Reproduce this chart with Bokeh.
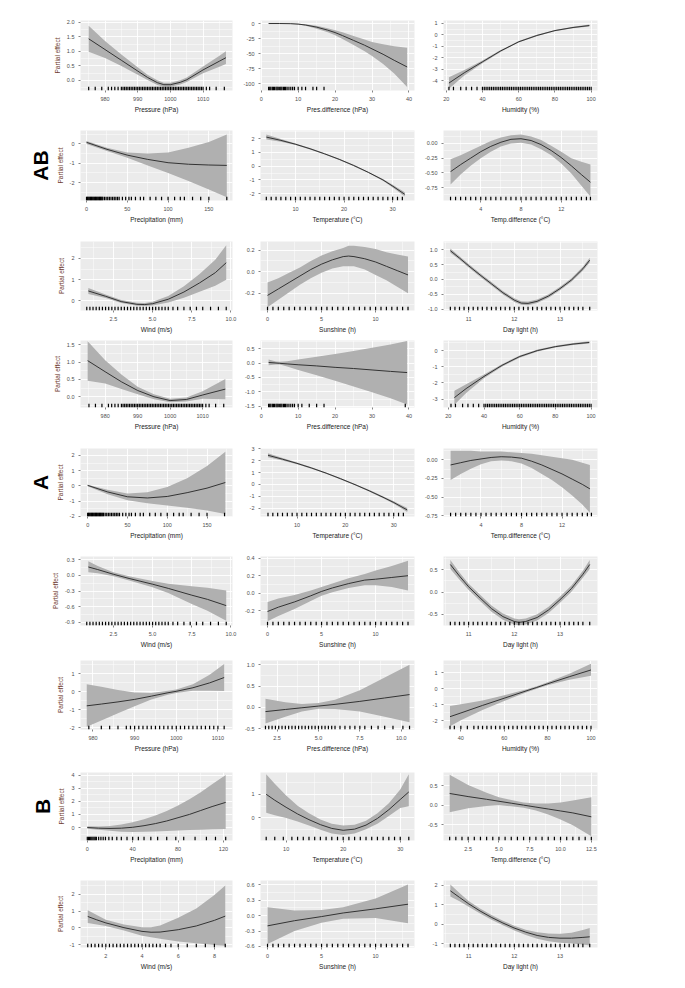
from bokeh.plotting import figure
from bokeh.layouts import column, row
from bokeh.models import Range1d, FixedTicker, PrintfTickFormatter, Title
from bokeh.embed import file_html
from bokeh.resources import INLINE

FONT = "Liberation Sans"

# ---------------- group AB ----------------
AB_PRES_X = [975, 980, 985, 990, 993, 996, 998, 1000, 1003, 1005, 1010, 1015, 1017]
AB_PRES_FIT = [1.43, 1.06, 0.69, 0.32, 0.10, -0.08, -0.15, -0.15, -0.07, 0.02, 0.36, 0.66, 0.78]
AB_PRES_LO = [0.98, 0.77, 0.49, 0.19, 0.01, -0.16, -0.22, -0.22, -0.14, -0.06, 0.24, 0.47, 0.56]
AB_PRES_HI = [1.88, 1.35, 0.89, 0.45, 0.19, 0.00, -0.08, -0.08, 0.00, 0.10, 0.48, 0.85, 1.00]

AB_PD_X = [2, 5, 8, 10, 12, 15, 18, 20, 22, 25, 28, 30, 33, 36, 39.5]
AB_PD_FIT = [0, 0, -0.3, -1, -2.5, -6, -11, -15, -20, -28, -36, -42, -51, -61, -72]
AB_PD_LO = [-0.3, -0.3, -0.8, -1.8, -3.8, -8.5, -14.5, -19.5, -25.5, -35.5, -46, -54, -67, -83, -105]
AB_PD_HI = [0.3, 0.3, 0.2, -0.3, -1.3, -3.7, -7.8, -11, -14.5, -20.5, -26.5, -30.5, -34.5, -37.5, -40]

AB_HUM_X = [21.5, 30, 40, 50, 60, 70, 80, 90, 99]
AB_HUM_FIT = [-4.2, -3.3, -2.35, -1.4, -0.6, -0.05, 0.38, 0.65, 0.82]
AB_HUM_LO = [-4.7, -3.55, -2.47, -1.48, -0.66, -0.11, 0.33, 0.59, 0.74]
AB_HUM_HI = [-3.7, -3.05, -2.23, -1.32, -0.54, 0.01, 0.43, 0.71, 0.90]

AB_PREC_X = [0, 25, 50, 75, 100, 125, 150, 172]
AB_PREC_FIT = [0.08, -0.28, -0.58, -0.80, -0.97, -1.05, -1.09, -1.11]
AB_PREC_LO = [0.0, -0.37, -0.72, -1.12, -1.50, -1.92, -2.35, -2.75]
AB_PREC_HI = [0.15, -0.20, -0.45, -0.50, -0.45, -0.20, 0.10, 0.48]

AB_TEMP_X = [4, 7, 10, 13, 16, 19, 22, 25, 28, 30, 32.5]
AB_TEMP_FIT = [2.12, 1.88, 1.60, 1.27, 0.90, 0.50, 0.05, -0.45, -1.00, -1.45, -2.05]
AB_TEMP_LO = [1.94, 1.78, 1.54, 1.22, 0.85, 0.45, 0.00, -0.50, -1.07, -1.55, -2.20]
AB_TEMP_HI = [2.30, 1.98, 1.66, 1.32, 0.95, 0.55, 0.10, -0.40, -0.93, -1.35, -1.90]

AB_TD_X = [1, 2, 3, 4, 5, 6, 7, 8, 9, 10, 11, 12, 13, 14, 14.9]
AB_TD_FIT = [-0.48, -0.36, -0.25, -0.14, -0.05, 0.02, 0.07, 0.08, 0.05, -0.02, -0.12, -0.24, -0.38, -0.53, -0.66]
AB_TD_LO = [-0.70, -0.53, -0.38, -0.25, -0.14, -0.05, 0.00, 0.01, -0.02, -0.10, -0.20, -0.34, -0.51, -0.72, -0.90]
AB_TD_HI = [-0.27, -0.20, -0.12, -0.04, 0.04, 0.10, 0.14, 0.15, 0.12, 0.06, -0.04, -0.14, -0.25, -0.31, -0.36]

AB_WIND_X = [0.9, 2, 3, 4, 4.5, 5, 6, 7, 8, 9, 9.7]
AB_WIND_FIT = [0.47, 0.22, -0.03, -0.16, -0.17, -0.13, 0.08, 0.42, 0.85, 1.33, 1.80]
AB_WIND_LO = [0.33, 0.14, -0.10, -0.23, -0.24, -0.22, -0.07, 0.15, 0.43, 0.72, 1.00]
AB_WIND_HI = [0.61, 0.30, 0.04, -0.09, -0.10, -0.04, 0.23, 0.69, 1.27, 1.94, 2.62]

AB_SUN_X = [0, 1, 2, 3, 4, 5, 6, 7, 7.5, 8, 9, 10, 11, 12, 13]
AB_SUN_FIT = [-0.22, -0.16, -0.10, -0.04, 0.02, 0.07, 0.11, 0.14, 0.145, 0.14, 0.12, 0.09, 0.05, 0.01, -0.03]
AB_SUN_LO = [-0.33, -0.26, -0.19, -0.12, -0.06, -0.01, 0.03, 0.05, 0.05, 0.05, 0.02, -0.03, -0.08, -0.14, -0.20]
AB_SUN_HI = [-0.10, -0.06, -0.01, 0.04, 0.10, 0.15, 0.19, 0.22, 0.24, 0.24, 0.23, 0.21, 0.18, 0.16, 0.14]

AB_DL_X = [10.6, 10.8, 11, 11.25, 11.5, 11.75, 12, 12.15, 12.3, 12.5, 12.75, 13, 13.25, 13.5, 13.65]
AB_DL_FIT = [0.97, 0.72, 0.46, 0.15, -0.15, -0.45, -0.70, -0.80, -0.81, -0.74, -0.56, -0.31, -0.02, 0.36, 0.65]
AB_DL_LO = [0.90, 0.66, 0.40, 0.09, -0.21, -0.51, -0.76, -0.86, -0.87, -0.80, -0.62, -0.37, -0.08, 0.29, 0.57]
AB_DL_HI = [1.04, 0.78, 0.52, 0.21, -0.09, -0.39, -0.64, -0.74, -0.75, -0.68, -0.50, -0.25, 0.04, 0.43, 0.73]

# ---------------- group A ----------------
A_PRES_X = [974.6, 980, 985, 990, 995, 1000, 1005, 1010, 1017]
A_PRES_FIT = [1.04, 0.72, 0.43, 0.18, 0.00, -0.11, -0.08, 0.05, 0.22]
A_PRES_LO = [0.46, 0.38, 0.22, 0.07, -0.07, -0.16, -0.14, -0.06, -0.07]
A_PRES_HI = [1.60, 1.05, 0.64, 0.29, 0.07, -0.06, -0.02, 0.16, 0.51]

A_PD_X = [2, 4, 5, 7, 10, 15, 20, 25, 30, 35, 39.5]
A_PD_FIT = [0.02, 0.0, -0.01, -0.03, -0.06, -0.10, -0.15, -0.19, -0.24, -0.29, -0.33]
A_PD_LO = [-0.08, -0.05, -0.05, -0.12, -0.24, -0.42, -0.61, -0.81, -1.01, -1.22, -1.44]
A_PD_HI = [0.12, 0.05, 0.04, 0.06, 0.12, 0.22, 0.31, 0.42, 0.53, 0.64, 0.76]

A_HUM_X = [23.4, 30, 40, 50, 60, 70, 80, 90, 99]
A_HUM_FIT = [-2.91, -2.35, -1.60, -0.92, -0.37, 0.00, 0.24, 0.40, 0.50]
A_HUM_LO = [-3.35, -2.62, -1.72, -1.00, -0.44, -0.06, 0.18, 0.34, 0.43]
A_HUM_HI = [-2.48, -2.08, -1.48, -0.84, -0.30, 0.06, 0.30, 0.46, 0.57]

A_PREC_X = [0, 25, 50, 75, 100, 125, 150, 173]
A_PREC_FIT = [0.03, -0.40, -0.72, -0.80, -0.70, -0.45, -0.15, 0.22]
A_PREC_LO = [-0.02, -0.55, -0.95, -1.15, -1.30, -1.45, -1.62, -1.85]
A_PREC_HI = [0.08, -0.25, -0.50, -0.42, -0.08, 0.50, 1.30, 2.25]

A_TEMP_X = [4, 7, 10, 13, 16, 19, 22, 25, 28, 30, 32.8]
A_TEMP_FIT = [2.45, 2.12, 1.77, 1.38, 0.95, 0.48, -0.02, -0.55, -1.12, -1.52, -2.15]
A_TEMP_LO = [2.28, 2.02, 1.70, 1.32, 0.89, 0.42, -0.08, -0.62, -1.20, -1.62, -2.32]
A_TEMP_HI = [2.62, 2.22, 1.84, 1.44, 1.01, 0.54, 0.04, -0.48, -1.04, -1.42, -1.98]

A_TD_X = [1, 2, 3, 4, 5, 6, 7, 8, 9, 10, 11, 12, 13, 14, 14.75]
A_TD_FIT = [-0.07, -0.04, -0.01, 0.01, 0.03, 0.04, 0.035, 0.02, -0.02, -0.07, -0.13, -0.19, -0.26, -0.33, -0.39]
A_TD_LO = [-0.27, -0.19, -0.12, -0.06, -0.02, -0.01, -0.02, -0.05, -0.11, -0.19, -0.27, -0.37, -0.48, -0.60, -0.71]
A_TD_HI = [0.12, 0.12, 0.12, 0.11, 0.11, 0.11, 0.10, 0.09, 0.08, 0.06, 0.04, 0.02, 0.00, -0.04, -0.07]

A_WIND_X = [0.9, 1.5, 2.5, 3.5, 5, 6, 7.5, 8.5, 9.7]
A_WIND_FIT = [0.16, 0.11, 0.02, -0.06, -0.17, -0.25, -0.38, -0.46, -0.58]
A_WIND_LO = [0.06, 0.04, -0.02, -0.10, -0.23, -0.34, -0.55, -0.68, -0.87]
A_WIND_HI = [0.27, 0.18, 0.06, -0.02, -0.11, -0.16, -0.21, -0.24, -0.29]

A_SUN_X = [0, 1, 2.5, 4, 5, 6, 7.5, 9, 10, 11.5, 13]
A_SUN_FIT = [-0.21, -0.16, -0.10, -0.03, 0.02, 0.06, 0.11, 0.15, 0.16, 0.18, 0.20]
A_SUN_LO = [-0.32, -0.26, -0.18, -0.09, -0.03, 0.01, 0.06, 0.09, 0.09, 0.07, 0.03]
A_SUN_HI = [-0.10, -0.06, -0.02, 0.03, 0.07, 0.11, 0.17, 0.22, 0.26, 0.31, 0.37]

A_DL_X = [10.6, 10.8, 11, 11.25, 11.5, 11.75, 12, 12.1, 12.25, 12.5, 12.75, 13, 13.25, 13.5, 13.65]
A_DL_FIT = [0.62, 0.36, 0.12, -0.13, -0.37, -0.55, -0.66, -0.68, -0.66, -0.57, -0.40, -0.17, 0.08, 0.40, 0.62]
A_DL_LO = [0.52, 0.28, 0.05, -0.20, -0.44, -0.62, -0.73, -0.75, -0.73, -0.64, -0.47, -0.24, 0.01, 0.32, 0.52]
A_DL_HI = [0.72, 0.44, 0.19, -0.06, -0.30, -0.48, -0.59, -0.61, -0.59, -0.50, -0.33, -0.10, 0.15, 0.48, 0.72]

# ---------------- group B ----------------
B_PRES_X = [978.5, 982, 986, 990, 994, 998, 1000, 1004, 1008, 1011.5]
B_PRES_FIT = [-0.78, -0.68, -0.56, -0.42, -0.24, -0.05, 0.03, 0.23, 0.50, 0.80]
B_PRES_LO = [-1.95, -1.60, -1.20, -0.80, -0.42, -0.16, -0.06, 0.06, 0.06, 0.05]
B_PRES_HI = [0.42, 0.28, 0.10, -0.04, -0.06, 0.06, 0.13, 0.42, 0.95, 1.55]

B_PD_X = [1.8, 3, 4, 5, 6, 7.5, 9, 10.5]
B_PD_FIT = [-0.10, -0.05, -0.01, 0.03, 0.07, 0.14, 0.22, 0.30]
B_PD_LO = [-0.38, -0.22, -0.10, -0.03, -0.04, -0.10, -0.22, -0.35]
B_PD_HI = [0.20, 0.12, 0.08, 0.10, 0.18, 0.40, 0.70, 1.00]

B_HUM_X = [35, 40, 50, 60, 70, 75, 80, 90, 100]
B_HUM_FIT = [-1.75, -1.52, -1.05, -0.60, -0.15, 0.07, 0.30, 0.74, 1.16]
B_HUM_LO = [-2.35, -1.98, -1.33, -0.78, -0.25, -0.01, 0.20, 0.55, 0.80]
B_HUM_HI = [-1.08, -0.98, -0.74, -0.42, -0.05, 0.15, 0.40, 0.93, 1.55]

B_PREC_X = [0, 10, 20, 30, 40, 50, 60, 70, 80, 90, 100, 110, 122]
B_PREC_FIT = [0.0, -0.05, -0.07, -0.05, 0.02, 0.14, 0.30, 0.50, 0.75, 1.00, 1.30, 1.60, 1.92]
B_PREC_LO = [-0.10, -0.17, -0.25, -0.32, -0.35, -0.33, -0.30, -0.26, -0.22, -0.19, -0.16, -0.14, -0.12]
B_PREC_HI = [0.10, 0.08, 0.12, 0.23, 0.40, 0.63, 0.92, 1.26, 1.68, 2.15, 2.70, 3.30, 4.00]

B_TEMP_X = [6.5, 8, 10, 12, 14, 16, 18, 20, 22, 24, 26, 28, 30, 31.5]
B_TEMP_FIT = [1.00, 0.75, 0.45, 0.17, -0.07, -0.28, -0.44, -0.52, -0.47, -0.30, -0.02, 0.35, 0.78, 1.10]
B_TEMP_LO = [0.22, 0.12, 0.00, -0.15, -0.32, -0.50, -0.65, -0.72, -0.65, -0.48, -0.24, 0.08, 0.42, 0.50]
B_TEMP_HI = [1.85, 1.45, 0.95, 0.52, 0.20, -0.06, -0.24, -0.32, -0.29, -0.12, 0.20, 0.62, 1.20, 1.85]

B_TD_X = [1, 2.5, 4, 5, 6, 7, 8, 9, 10, 11, 12.5]
B_TD_FIT = [0.30, 0.22, 0.15, 0.10, 0.05, 0.00, -0.05, -0.10, -0.15, -0.20, -0.30]
B_TD_LO = [-0.18, -0.08, -0.02, 0.00, -0.03, -0.07, -0.14, -0.24, -0.37, -0.52, -0.80]
B_TD_HI = [0.78, 0.52, 0.32, 0.20, 0.13, 0.07, 0.04, 0.04, 0.07, 0.12, 0.20]

B_WIND_X = [1, 1.5, 2, 3, 4, 4.5, 5, 6, 7, 8, 8.6]
B_WIND_FIT = [0.68, 0.48, 0.30, 0.02, -0.20, -0.25, -0.24, -0.10, 0.12, 0.45, 0.70]
B_WIND_LO = [0.30, 0.20, 0.12, -0.15, -0.45, -0.55, -0.64, -0.80, -0.90, -1.00, -1.05]
B_WIND_HI = [1.05, 0.76, 0.48, 0.20, 0.05, 0.05, 0.15, 0.60, 1.15, 1.95, 2.50]

B_SUN_X = [0, 2.5, 5, 7, 10, 13]
B_SUN_FIT = [-0.20, -0.10, -0.02, 0.05, 0.13, 0.22]
B_SUN_LO = [-0.55, -0.30, -0.14, -0.06, -0.05, -0.15]
B_SUN_HI = [0.16, 0.10, 0.11, 0.16, 0.33, 0.60]

B_DL_X = [10.6, 10.8, 11, 11.25, 11.5, 11.75, 12, 12.25, 12.5, 12.75, 13, 13.25, 13.5, 13.65]
B_DL_FIT = [1.72, 1.38, 1.05, 0.68, 0.35, 0.06, -0.20, -0.41, -0.58, -0.68, -0.72, -0.72, -0.68, -0.65]
B_DL_LO = [1.42, 1.18, 0.90, 0.55, 0.23, -0.06, -0.32, -0.55, -0.75, -0.88, -0.95, -1.00, -1.05, -1.10]
B_DL_HI = [2.05, 1.60, 1.20, 0.81, 0.47, 0.18, -0.08, -0.28, -0.42, -0.48, -0.49, -0.44, -0.30, -0.20]

# ---------------- rug (observed values) ----------------
RUG_PRES = [975, 977, 979, 981, 982, 983, 984, 985, 985.5, 986, 986.5, 987, 987.5, 988, 988.5, 989, 989.5, 990,
            990.5, 991, 991.5, 992, 992.5, 993, 993.5, 994, 994.5, 995, 995.5, 996, 996.5, 997, 997.5, 998, 998.5,
            999, 999.5, 1000, 1000.5, 1001, 1001.5, 1002, 1002.5, 1003, 1003.5, 1004, 1004.5, 1005, 1005.5, 1006,
            1006.5, 1007, 1007.5, 1008, 1008.5, 1009, 1009.5, 1010, 1011, 1012, 1014, 1016.5]
RUG_PRES_B = [979, 982, 984, 986, 988, 989, 990, 991, 992, 993, 994, 995, 996, 997, 998, 999, 1000, 1001, 1002,
              1003, 1004, 1005, 1006, 1007, 1008, 1009, 1010, 1011.5]
RUG_PD = [2, 2.3, 2.6, 3, 3.3, 3.6, 4, 4.3, 4.6, 5, 5.3, 5.6, 6, 6.3, 6.6, 7, 7.5, 8, 8.5, 9, 10, 11, 12, 14, 15, 17]
RUG_PD_A = [2, 2.3, 2.6, 3, 3.3, 3.6, 4, 4.3, 4.6, 5, 5.3, 5.6, 6, 6.3, 6.6, 7, 7.5, 8, 8.5, 9, 10, 11, 13, 15, 17, 39]
RUG_PD_B = [1.8, 2.0, 2.2, 2.4, 2.6, 2.8, 3.0, 3.2, 3.4, 3.6, 3.8, 4.0, 4.2, 4.4, 4.6, 4.8, 5.0, 5.2, 5.4, 5.6,
            5.8, 6.0, 6.3, 6.6, 6.9, 7.2, 7.5, 7.8, 8.2, 8.6, 9.0, 9.5, 10.1, 10.5]
RUG_HUM = [21.5, 24, 28, 31, 34, 37, 40, 41, 42, 43, 44, 45, 46, 47, 48, 49, 50, 51, 52, 53, 54, 55, 56, 57, 58,
           59, 60, 61, 62, 63, 64, 65, 66, 67, 68, 69, 70, 71, 72, 73, 74, 75, 76, 77, 78, 79, 80, 81, 82, 83, 84,
           85, 86, 87, 88, 89, 90, 91, 92, 93, 94, 95, 96, 97, 98, 99, 100]
RUG_HUM_B = [35, 37, 40, 43, 46, 48, 50, 52, 54, 56, 58, 60, 62, 64, 66, 68, 70, 72, 74, 76, 78, 80, 82, 84, 86,
             88, 90, 92, 94, 96, 98, 100]
RUG_PREC = [0, 1, 2, 3, 4, 5, 6, 7, 8, 9, 10, 11, 12, 13, 14, 15, 16, 17, 18, 19, 20, 22, 24, 26, 28, 30, 32, 34,
            36, 38, 40, 44, 48, 52, 55, 60, 66, 70, 78, 85, 92, 100, 108, 115, 120, 130, 140, 150, 172]
RUG_PREC_B = [0, 1, 2, 3, 4, 5, 6, 7, 8, 10, 12, 14, 16, 19, 22, 26, 30, 35, 40, 45, 50, 56, 62, 70, 78, 85, 95,
              105, 113, 122]
RUG_TEMP = [4, 5, 6, 7, 8, 9, 10, 11, 12, 13, 14, 15, 16, 17, 18, 19, 20, 21, 22, 23, 24, 25, 26, 27, 28, 29,
            30, 31, 32]
RUG_TEMP_B = [6.5, 8, 9.5, 11, 12, 13, 14, 15, 16, 17, 18, 19, 20, 21, 22, 23, 24, 25, 26, 27, 28, 29, 30, 31.5]
RUG_TD = [1, 1.5, 2, 2.5, 3, 3.5, 4, 4.5, 5, 5.5, 6, 6.5, 7, 7.5, 8, 8.5, 9, 9.5, 10, 10.5, 11, 11.5, 12, 12.5,
          13, 13.5, 14, 14.5, 14.9]
RUG_TD_B = [1, 1.5, 2, 2.5, 3, 3.5, 4, 4.5, 5, 5.5, 6, 6.5, 7, 7.5, 8, 8.5, 9, 9.5, 10, 10.5, 11, 11.5, 12, 12.5]
RUG_WIND = [0.8, 1.0, 1.2, 1.4, 1.6, 1.8, 2.0, 2.2, 2.4, 2.6, 2.8, 3.0, 3.2, 3.4, 3.6, 3.8, 4.0, 4.2, 4.4, 4.6,
            4.8, 5.0, 5.2, 5.4, 5.6, 5.8, 6.0, 6.3, 6.6, 7.0, 7.4, 7.8, 8.2, 8.7, 9.2, 9.7]
RUG_WIND_B = [1.0, 1.2, 1.4, 1.6, 1.8, 2.0, 2.2, 2.4, 2.6, 2.8, 3.0, 3.2, 3.4, 3.6, 3.8, 4.0, 4.2, 4.4, 4.6, 4.8,
              5.0, 5.3, 5.6, 6.0, 6.5, 7.0, 7.5, 8.0, 8.6]
RUG_SUN = [0, 0.5, 1, 1.5, 2, 2.5, 3, 3.5, 4, 4.5, 5, 5.5, 6, 6.5, 7, 7.5, 8, 8.5, 9, 9.5, 10, 10.5, 11, 11.5,
           12, 12.5, 13]
RUG_DL = [10.6, 10.7, 10.8, 10.9, 11.0, 11.1, 11.2, 11.3, 11.4, 11.5, 11.6, 11.7, 11.8, 11.9, 12.0, 12.1, 12.2,
          12.3, 12.4, 12.5, 12.6, 12.7, 12.8, 12.9, 13.0, 13.1, 13.2, 13.3, 13.4, 13.5, 13.65]

# ---------------- axis titles / ticks ----------------
XL_PRES = "Pressure (hPa)"
XL_PD = "Pres.difference (hPa)"
XL_HUM = "Humidity (%)"
XL_PREC = "Precipitation (mm)"
XL_TEMP = "Temperature (\u00b0C)"
XL_TD = "Temp.difference (\u00b0C)"
XL_WIND = "Wind (m/s)"
XL_SUN = "Sunshine (h)"
XL_DL = "Day light (h)"
Y_LABEL = "Partial effect"

# (x, fit, lo, hi, rug, xlim, ylim, xticks, xfmt, yticks, yfmt, xlabel)
PANELS = [
    [(AB_PRES_X, AB_PRES_FIT, AB_PRES_LO, AB_PRES_HI, RUG_PRES, (972.5, 1019), (-0.35, 2.06), [980, 990, 1000, 1010], "%d", [0, 0.5, 1, 1.5, 2], "%.1f", XL_PRES),
     (AB_PD_X, AB_PD_FIT, AB_PD_LO, AB_PD_HI, RUG_PD, (-0.2, 41.5), (-111, 5), [0, 10, 20, 30, 40], "%d", [-100, -75, -50, -25, 0], "%d", XL_PD),
     (AB_HUM_X, AB_HUM_FIT, AB_HUM_LO, AB_HUM_HI, RUG_HUM, (18.5, 103.5), (-4.85, 1.26), [20, 40, 60, 80, 100], "%d", [-4, -3, -2, -1, 0, 1], "%d", XL_HUM)],
    [(AB_PREC_X, AB_PREC_FIT, AB_PREC_LO, AB_PREC_HI, RUG_PREC, (-7.4, 179), (-2.92, 0.69), [0, 50, 100, 150], "%d", [-2, -1, 0], "%d", XL_PREC),
     (AB_TEMP_X, AB_TEMP_FIT, AB_TEMP_LO, AB_TEMP_HI, RUG_TEMP, (2.8, 34.5), (-2.5, 2.6), [10, 20, 30], "%d", [-2, -1, 0, 1, 2], "%d", XL_TEMP),
     (AB_TD_X, AB_TD_FIT, AB_TD_LO, AB_TD_HI, RUG_TD, (0.3, 15.6), (-0.97, 0.22), [4, 8, 12], "%d", [-0.75, -0.5, -0.25, 0], "%.2f", XL_TD)],
    [(AB_WIND_X, AB_WIND_FIT, AB_WIND_LO, AB_WIND_HI, RUG_WIND, (0.4, 10.1), (-0.45, 2.8), [2.5, 5, 7.5, 10], "%.1f", [0, 1, 2], "%d", XL_WIND),
     (AB_SUN_X, AB_SUN_FIT, AB_SUN_LO, AB_SUN_HI, RUG_SUN, (-0.65, 13.6), (-0.36, 0.28), [0, 5, 10], "%d", [-0.2, 0, 0.2], "%.1f", XL_SUN),
     (AB_DL_X, AB_DL_FIT, AB_DL_LO, AB_DL_HI, RUG_DL, (10.45, 13.82), (-1.05, 1.28), [11, 12, 13], "%d", [-1, -0.5, 0, 0.5, 1], "%.1f", XL_DL)],
    [(A_PRES_X, A_PRES_FIT, A_PRES_LO, A_PRES_HI, RUG_PRES, (972.4, 1019.2), (-0.31, 1.62), [980, 990, 1000, 1010], "%d", [0, 0.5, 1, 1.5], "%.1f", XL_PRES),
     (A_PD_X, A_PD_FIT, A_PD_LO, A_PD_HI, RUG_PD_A, (-0.2, 41.5), (-1.54, 0.78), [0, 10, 20, 30, 40], "%d", [-1.5, -1, -0.5, 0, 0.5], "%.1f", XL_PD),
     (A_HUM_X, A_HUM_FIT, A_HUM_LO, A_HUM_HI, RUG_HUM, (17.3, 103.6), (-3.52, 0.62), [20, 40, 60, 80, 100], "%d", [-3, -2, -1, 0], "%d", XL_HUM)],
    [(A_PREC_X, A_PREC_FIT, A_PREC_LO, A_PREC_HI, RUG_PREC, (-9, 182), (-2.02, 2.46), [0, 50, 100, 150], "%d", [-2, -1, 0, 1, 2], "%d", XL_PREC),
     (A_TEMP_X, A_TEMP_FIT, A_TEMP_LO, A_TEMP_HI, RUG_TEMP, (2.45, 34.3), (-2.7, 3.02), [10, 20, 30], "%d", [-2, -1, 0, 1, 2, 3], "%d", XL_TEMP),
     (A_TD_X, A_TD_FIT, A_TD_LO, A_TD_HI, RUG_TD, (0.3, 15.5), (-0.76, 0.15), [4, 8, 12], "%d", [-0.75, -0.5, -0.25, 0], "%.2f", XL_TD)],
    [(A_WIND_X, A_WIND_FIT, A_WIND_LO, A_WIND_HI, RUG_WIND, (0.4, 10.1), (-0.96, 0.36), [2.5, 5, 7.5, 10], "%.1f", [-0.9, -0.6, -0.3, 0, 0.3], "%.1f", XL_WIND),
     (A_SUN_X, A_SUN_FIT, A_SUN_LO, A_SUN_HI, RUG_SUN, (-0.65, 13.6), (-0.37, 0.42), [0, 5, 10], "%d", [-0.2, 0, 0.2, 0.4], "%.1f", XL_SUN),
     (A_DL_X, A_DL_FIT, A_DL_LO, A_DL_HI, RUG_DL, (10.45, 13.82), (-0.75, 0.8), [11, 12, 13], "%d", [-0.5, 0, 0.5], "%.1f", XL_DL)],
    [(B_PRES_X, B_PRES_FIT, B_PRES_LO, B_PRES_HI, RUG_PRES_B, (977, 1013.5), (-2.1, 1.75), [980, 990, 1000, 1010], "%d", [-2, -1, 0, 1], "%d", XL_PRES),
     (B_PD_X, B_PD_FIT, B_PD_LO, B_PD_HI, RUG_PD_B, (1.5, 10.8), (-0.52, 1.1), [2.5, 5, 7.5, 10], "%.1f", [-0.5, 0, 0.5, 1], "%.1f", XL_PD),
     (B_HUM_X, B_HUM_FIT, B_HUM_LO, B_HUM_HI, RUG_HUM_B, (32, 103), (-2.55, 1.75), [40, 60, 80, 100], "%d", [-2, -1, 0, 1], "%d", XL_HUM)],
    [(B_PREC_X, B_PREC_FIT, B_PREC_LO, B_PREC_HI, RUG_PREC_B, (-6, 128), (-0.99, 4.2), [0, 40, 80, 120], "%d", [0, 1, 2, 3, 4], "%d", XL_PREC),
     (B_TEMP_X, B_TEMP_FIT, B_TEMP_LO, B_TEMP_HI, RUG_TEMP_B, (5.5, 32.5), (-0.95, 1.92), [10, 20, 30], "%d", [0, 1], "%d", XL_TEMP),
     (B_TD_X, B_TD_FIT, B_TD_LO, B_TD_HI, RUG_TD_B, (0.5, 13), (-0.91, 0.84), [2.5, 5, 7.5, 10, 12.5], "%.1f", [-0.5, 0, 0.5], "%.1f", XL_TD)],
    [(B_WIND_X, B_WIND_FIT, B_WIND_LO, B_WIND_HI, RUG_WIND_B, (0.6, 9.0), (-1.15, 2.8), [2, 4, 6, 8], "%d", [-1, 0, 1, 2], "%d", XL_WIND),
     (B_SUN_X, B_SUN_FIT, B_SUN_LO, B_SUN_HI, RUG_SUN, (-0.65, 13.6), (-0.62, 0.68), [0, 5, 10], "%d", [-0.6, -0.3, 0, 0.3, 0.6], "%.1f", XL_SUN),
     (B_DL_X, B_DL_FIT, B_DL_LO, B_DL_HI, RUG_DL, (10.45, 13.82), (-1.2, 2.25), [11, 12, 13], "%d", [-1, 0, 1, 2], "%d", XL_DL)],
]

# layout: (figure height, top border, bottom border) per row
ROW_GEOM = [(120, 20, 30), (111, 10, 31), (104, 10, 25), (103, 5, 31), (108, 10, 30),
            (104, 10, 23), (112, 10, 33), (108, 10, 30), (102, 10, 23)]
# (figure width, left border, right border) per column
COL_GEOM = [(238, 80, 6), (182, 22, 6), (187, 23, 10)]
GROUP_ROWS = {1: "AB", 4: "A", 7: "B"}


def minors(t):
    d = t[1] - t[0]
    return [t[0] - d / 2] + [(a + b) / 2 for a, b in zip(t[:-1], t[1:])] + [t[-1] + d / 2]


def make_panel(spec, ri, ci):
    x, fit, lo, hi, rug, xlim, ylim, xt, xfmt, yt, yfmt, xlabel = spec
    h, bt, bb = ROW_GEOM[ri]
    w, bl, br = COL_GEOM[ci]
    p = figure(width=w, height=h, x_range=Range1d(*xlim), y_range=Range1d(*ylim),
               output_backend="svg", toolbar_location=None,
               min_border_left=bl, min_border_right=br, min_border_top=bt, min_border_bottom=bb)
    p.background_fill_color = "#EBEBEB"
    p.border_fill_color = "white"
    p.outline_line_color = None

    p.xaxis.ticker = FixedTicker(ticks=xt, minor_ticks=minors(xt))
    p.yaxis.ticker = FixedTicker(ticks=yt, minor_ticks=minors(yt))
    p.xaxis.formatter = PrintfTickFormatter(format=xfmt)
    p.yaxis.formatter = PrintfTickFormatter(format=yfmt)
    for g in (p.xgrid, p.ygrid):
        g.grid_line_color = "white"
        g.grid_line_width = 0.9
        g.minor_grid_line_color = "white"
        g.minor_grid_line_width = 0.45
    for ax in (p.xaxis, p.yaxis):
        ax.axis_line_color = None
        ax.major_tick_line_color = "#333333"
        ax.major_tick_line_width = 0.6
        ax.major_tick_out = 2
        ax.major_tick_in = 0
        ax.minor_tick_line_color = None
        ax.major_label_text_font = FONT
        ax.major_label_text_font_size = "5.5px"
        ax.major_label_text_color = "#4D4D4D"
        ax.major_label_standoff = 2
        ax.axis_label_text_font = FONT
        ax.axis_label_text_font_style = "normal"
    p.xaxis.axis_label = xlabel
    p.xaxis.axis_label_text_font_size = "6.5px"
    p.xaxis.axis_label_text_color = "#1A1A1A"
    p.xaxis.axis_label_standoff = 2
    if ci == 0:
        p.yaxis.axis_label = Y_LABEL
        p.yaxis.axis_label_text_font_size = "6.5px"
        p.yaxis.axis_label_text_color = "#6E3B2E"
        p.yaxis.axis_label_standoff = 3
    if ci == 0 and ri in GROUP_ROWS:
        t = Title(text=GROUP_ROWS[ri], text_font=FONT, text_font_size="21px",
                  text_font_style="bold", text_color="black", align="center", standoff=4)
        p.add_layout(t, "left")

    p.varea(x=x, y1=lo, y2=hi, fill_color="#B0B0B0")
    p.line(x, fit, line_color="#333333", line_width=1)
    r0 = ylim[0]
    r1 = ylim[0] + 0.055 * (ylim[1] - ylim[0])
    p.segment(x0=rug, x1=rug, y0=[r0] * len(rug), y1=[r1] * len(rug),
              line_color="black", line_width=1.2)
    return p


rows = []
for ri, row_specs in enumerate(PANELS):
    figs = [make_panel(spec, ri, ci) for ci, spec in enumerate(row_specs)]
    rows.append(row(*figs, spacing=0))

layout = column(*rows, spacing=0)

open("out.html", "w").write(file_html(layout, INLINE, "Partial effects"))
